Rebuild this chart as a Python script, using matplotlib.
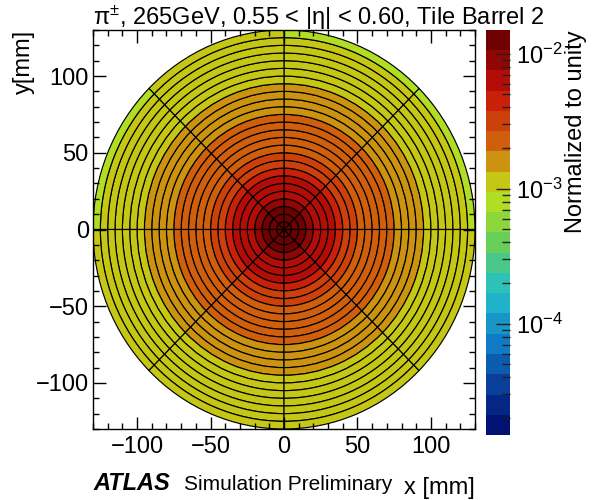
import numpy as np
import matplotlib
matplotlib.use("Agg")
import matplotlib.pyplot as plt
from matplotlib.patches import Wedge
from matplotlib.collections import PatchCollection
from matplotlib.colors import LinearSegmentedColormap, ListedColormap, LogNorm
from matplotlib.ticker import MultipleLocator, LogLocator, NullFormatter

plt.rcParams['font.family'] = ['Liberation Sans', 'DejaVu Sans']
plt.rcParams['mathtext.fontset'] = 'custom'
plt.rcParams['mathtext.rm'] = 'Liberation Sans'
plt.rcParams['mathtext.it'] = 'Liberation Sans:italic'
plt.rcParams['mathtext.bf'] = 'Liberation Sans:bold'

# radial bin edges [mm] and phi sector edges [deg]
r_edges = [0, 5, 10, 15, 20, 25, 30, 35, 40, 45, 50, 55, 60, 65,
           70, 75, 80, 85, 90, 95, 100, 105, 110, 115, 120, 125, 130]
phi_edges = [0, 45, 90, 135, 180, 225, 270, 315, 360]

# normalized energy per bin, inner 25 rings (same in every phi sector)
ring_values = [1.42e-2, 1.25e-2, 1.09e-2, 8.6e-3, 7.3e-3, 6.5e-3, 5.6e-3,
               4.8e-3, 3.6e-3, 3.0e-3, 2.6e-3, 2.4e-3, 2.2e-3, 2.05e-3,
               1.92e-3, 1.82e-3, 1.65e-3, 1.52e-3, 1.40e-3, 1.30e-3,
               1.22e-3, 1.15e-3, 1.08e-3, 1.02e-3, 9.8e-4]
# outermost ring (125-130 mm), one value per phi sector
outer_ring_values = [8.9e-4, 9.1e-4, 9.7e-4, 9.0e-4, 9.8e-4, 9.9e-4, 9.8e-4, 9.7e-4]

z_min, z_max = 1.5e-5, 1.5e-2
n_contours = 20

# ROOT kRainBow palette, sampled the way ROOT picks contour colours
rb_red = [0, 5, 15, 35, 102, 196, 208, 199, 110]
rb_green = [0, 48, 124, 192, 206, 226, 97, 16, 0]
rb_blue = [99, 142, 198, 201, 90, 22, 13, 8, 2]
stops = np.linspace(0, 1, len(rb_red))
rainbow = LinearSegmentedColormap.from_list(
    'kRainBow', [(s, (r / 255, g / 255, b / 255)) for s, r, g, b in zip(stops, rb_red, rb_green, rb_blue)])
idx = [int((i + 0.99) * 255 / n_contours) for i in range(n_contours)]
cmap = ListedColormap([rainbow(min(k, 254) / 254) for k in idx])
norm = LogNorm(vmin=z_min, vmax=z_max)

fig = plt.figure(figsize=(5.94, 5.0), dpi=100)
ax = fig.add_axes([93 / 594, 71 / 500, 382 / 594, 399 / 500])

patches, values = [], []
for i in range(len(r_edges) - 1):
    for j in range(len(phi_edges) - 1):
        patches.append(Wedge((0, 0), r_edges[i + 1], phi_edges[j], phi_edges[j + 1],
                             width=r_edges[i + 1] - r_edges[i]))
        if i < len(ring_values):
            values.append(ring_values[i])
        else:
            values.append(outer_ring_values[j])

pc = PatchCollection(patches, cmap=cmap, norm=norm, edgecolor='black', linewidth=0.85)
pc.set_array(np.array(values))
ax.add_collection(pc)

ax.set_xlim(-130, 130)
ax.set_ylim(-130, 130)
ax.xaxis.set_major_locator(MultipleLocator(50))
ax.xaxis.set_minor_locator(MultipleLocator(10))
ax.yaxis.set_major_locator(MultipleLocator(50))
ax.yaxis.set_minor_locator(MultipleLocator(10))
ax.tick_params(which='both', direction='in', top=True, right=True, width=1.0)
ax.tick_params(which='major', length=9, labelsize=17)
ax.tick_params(which='minor', length=4.5)
ax.tick_params(axis='x', pad=5)
ax.tick_params(axis='y', pad=3)
for s in ax.spines.values():
    s.set_linewidth(1.0)

# colour bar
cax = fig.add_axes([486 / 594, 65 / 500, 24 / 594, 405 / 500])
cb = fig.colorbar(pc, cax=cax)
cb.outline.set_visible(False)
cax.yaxis.set_major_locator(LogLocator(base=10, numticks=10))
cax.yaxis.set_minor_locator(LogLocator(base=10, subs=np.arange(2, 10), numticks=20))
cax.yaxis.set_minor_formatter(NullFormatter())
cax.tick_params(which='both', direction='in', right=True, left=False, width=1.0, color='#202020')
cax.tick_params(which='major', length=10, labelsize=17, pad=4)
cax.tick_params(which='minor', length=5.5)

# texts
fig.text(93 / 594, 1 - 25 / 500, r'π$^{\pm}$, 265GeV, 0.55 < |η| < 0.60, Tile Barrel 2',
         fontsize=17, ha='left', va='baseline')
fig.text(24 / 594, 1 - 30 / 500, 'y[mm]', rotation=90, fontsize=17, ha='center', va='top')
fig.text(475 / 594, 1 - 494 / 500, 'x [mm]', fontsize=17, ha='right', va='baseline')
fig.text(93 / 594, 1 - 490 / 500, 'ATLAS', fontsize=17, fontweight='bold', fontstyle='italic',
         ha='left', va='baseline')
fig.text(184 / 594, 1 - 490 / 500, 'Simulation Preliminary', fontsize=15, ha='left', va='baseline')
fig.text(576 / 594, 1 - 30 / 500, 'Normalized to unity', rotation=90, fontsize=17,
         ha='center', va='top')

fig.savefig('out.png', dpi=100)
